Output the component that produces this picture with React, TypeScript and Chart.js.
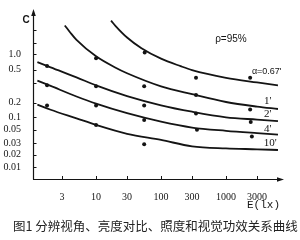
import React, { useEffect, useRef } from "react";
import { Chart, registerables, LogarithmicScale } from "chart.js";

// ---------- data ----------
const X_TICKS = [3, 10, 30, 100, 300, 1000, 3000];
const Y_TICKS = [0.01, 0.02, 0.03, 0.05, 0.1, 0.2, 0.3, 0.5, 1, 2, 5];
const Y_TICK_LABELS = ["0.01", "0.02", "0.03", "0.05", "0.1", "0.2", "", "0.5", "1.0", "", ""];

const SERIES_NAMES = ["α=0.67'", "1'", "2'", "4'", "10'"];

// fitted curves: illuminance E (lx) and contrast C
const curve067X = [17, 20, 30, 50, 100, 200, 300, 1000, 3000, 6300];
const curve067C = [6.95, 5.78, 2.95, 1.45, 0.826, 0.59, 0.496, 0.371, 0.311, 0.288];
const curve1X = [3.3, 4, 5, 10, 20, 30, 100, 300, 1000, 3000, 6300];
const curve1C = [5.9, 4.25, 2.47, 0.917, 0.55, 0.44, 0.282, 0.239, 0.203, 0.166, 0.148];
const curveLowX = [1.25, 2, 5, 10, 30, 100, 300, 1000, 3000, 6300];
const curve2C = [0.71, 0.56, 0.377, 0.288, 0.23, 0.177, 0.13, 0.0994, 0.0875, 0.0808];
const curve4C = [0.334, 0.2845, 0.228, 0.191, 0.121, 0.0782, 0.0565, 0.048, 0.044, 0.0417];
const curve10C = [0.182, 0.1427, 0.0938, 0.0653, 0.0429, 0.034, 0.027, 0.0251, 0.0243, 0.0237];

// measured points
const dots067X = [56, 345, 2350];
const dots067C = [1.12, 0.373, 0.373];
const dots1X = [10, 55, 345, 2350];
const dots1C = [0.841, 0.282, 0.235, 0.1447];
const dots2X = [1.76, 10, 55, 345, 2400];
const dots2C = [0.594, 0.282, 0.174, 0.12, 0.0766];
const dots4X = [1.76, 10, 55, 357, 2500];
const dots4C = [0.288, 0.174, 0.0852, 0.05, 0.0387];
const dots10X = [1.76, 10, 55];
const dots10C = [0.174, 0.0653, 0.029];

// ---------- the figure's non-uniform C axis ----------
const Y_KNOT_VALUES = [0.005, 0.01, 0.02, 0.03, 0.05, 0.1, 0.2, 0.3, 0.5, 1, 2, 5, 10];
const Y_KNOT_OFFSETS = [0, 12, 25, 37, 51, 64, 79, 99, 113, 129, 141, 154, 175];
const Y_KNOT_LOGS = Y_KNOT_VALUES.map((v) => Math.log10(v));
const Y_TOTAL = Y_KNOT_OFFSETS[Y_KNOT_OFFSETS.length - 1];

class PiecewiseLogScale extends LogarithmicScale {
  static id = "piecewiseLog";
  getPixelForValue(value: any) {
    if (value === null || value === undefined || isNaN(value)) return NaN;
    const lv = Math.log10(Math.max(value, 1e-9));
    let i = 0;
    while (i < Y_KNOT_LOGS.length - 2 && lv > Y_KNOT_LOGS[i + 1]) i++;
    const t = (lv - Y_KNOT_LOGS[i]) / (Y_KNOT_LOGS[i + 1] - Y_KNOT_LOGS[i]);
    const off = Y_KNOT_OFFSETS[i] + t * (Y_KNOT_OFFSETS[i + 1] - Y_KNOT_OFFSETS[i]);
    return (this as any).getPixelForDecimal(off / Y_TOTAL);
  }
  getValueForPixel(pixel: number) {
    const off = (this as any).getDecimalForPixel(pixel) * Y_TOTAL;
    let i = 0;
    while (i < Y_KNOT_OFFSETS.length - 2 && off > Y_KNOT_OFFSETS[i + 1]) i++;
    const t = (off - Y_KNOT_OFFSETS[i]) / (Y_KNOT_OFFSETS[i + 1] - Y_KNOT_OFFSETS[i]);
    return Math.pow(10, Y_KNOT_LOGS[i] + t * (Y_KNOT_LOGS[i + 1] - Y_KNOT_LOGS[i]));
  }
}

Chart.register(...registerables, PiecewiseLogScale as any);

const CAPTION = "图1 分辨视角、亮度对比、照度和视觉功效关系曲线";
const INK = "#141414";

// label anchors (x value in lx, vertical offset from curve end)
const LABEL_X = [2500, 3850, 3850, 3850, 3800];
const LABEL_DY = [-14, -7.5, -7, -5, -7];

const zip = (xs: number[], ys: number[]) => xs.map((x, i) => ({ x, y: ys[i] }));

const decorPlugin = {
  id: "decor",
  afterDraw(chart: any) {
    const { ctx, chartArea: a } = chart;
    const xs = chart.scales.x;
    const ys = chart.scales.y;
    ctx.save();
    ctx.strokeStyle = INK;
    ctx.fillStyle = INK;
    ctx.lineWidth = 1.2;
    // y axis with arrow
    ctx.beginPath();
    ctx.moveTo(a.left + 0.5, a.bottom + 0.5);
    ctx.lineTo(a.left + 0.5, a.top + 4);
    ctx.stroke();
    ctx.beginPath();
    ctx.moveTo(a.left + 0.5, a.top - 1);
    ctx.lineTo(a.left - 1.8, a.top + 6);
    ctx.lineTo(a.left + 2.8, a.top + 6);
    ctx.closePath();
    ctx.fill();
    // x axis with arrow
    ctx.beginPath();
    ctx.moveTo(a.left, a.bottom + 0.5);
    ctx.lineTo(a.right - 4, a.bottom + 0.5);
    ctx.stroke();
    ctx.beginPath();
    ctx.moveTo(a.right + 1, a.bottom + 0.5);
    ctx.lineTo(a.right - 6, a.bottom - 1.8);
    ctx.lineTo(a.right - 6, a.bottom + 2.8);
    ctx.closePath();
    ctx.fill();
    // inner ticks
    ctx.lineWidth = 1;
    ctx.beginPath();
    X_TICKS.forEach((v) => {
      const px = Math.round(xs.getPixelForValue(v)) + 0.5;
      ctx.moveTo(px, a.bottom);
      ctx.lineTo(px, a.bottom - 3);
    });
    Y_TICKS.forEach((v) => {
      const py = Math.round(ys.getPixelForValue(v)) + 0.5;
      ctx.moveTo(a.left, py);
      ctx.lineTo(a.left + 3.5, py);
    });
    ctx.stroke();

    // axis names
    ctx.textBaseline = "middle";
    ctx.textAlign = "center";
    ctx.font = "bold 10px 'Liberation Sans'";
    ctx.fillText("C", a.left - 7, a.top + 10);
    ctx.font = "11px 'Liberation Mono'";
    ctx.textAlign = "right";
    ctx.fillText("E(lx)", a.right - 3, a.bottom + 26);

    ctx.font = "10px 'Liberation Sans'";
    ctx.textAlign = "center";
    ctx.fillText("ρ=95%", xs.getPixelForValue(1190), ys.getPixelForValue(2.6));

    // curve labels
    const ends = [curve067C, curve1C, curve2C, curve4C, curve10C];
    ctx.textAlign = "left";
    SERIES_NAMES.forEach((name, i) => {
      const c = ends[i];
      const yEnd = ys.getPixelForValue(c[c.length - 1]);
      ctx.font = i === 0 ? "9px 'Liberation Sans'" : "11px 'Liberation Serif'";
      ctx.fillText(name, xs.getPixelForValue(LABEL_X[i]), yEnd + LABEL_DY[i]);
    });

    // caption
    ctx.font = "12.5px 'Noto Sans CJK SC'";
    ctx.fillStyle = "#222";
    ctx.textAlign = "left";
    ctx.fillText(CAPTION, 13, 226);
    ctx.restore();
  },
};

export default function App() {
  const ref = useRef<HTMLCanvasElement | null>(null);
  useEffect(() => {
    if (!ref.current) return;
    const curves = [
      zip(curve067X, curve067C),
      zip(curve1X, curve1C),
      zip(curveLowX, curve2C),
      zip(curveLowX, curve4C),
      zip(curveLowX, curve10C),
    ];
    const dots = [
      zip(dots067X, dots067C),
      zip(dots1X, dots1C),
      zip(dots2X, dots2C),
      zip(dots4X, dots4C),
      zip(dots10X, dots10C),
    ];
    const datasets: any[] = [];
    curves.forEach((d, i) =>
      datasets.push({
        label: SERIES_NAMES[i],
        data: d,
        showLine: true,
        borderColor: INK,
        borderWidth: 1.8,
        pointRadius: 0,
        cubicInterpolationMode: "monotone",
        fill: false,
      })
    );
    dots.forEach((d, i) =>
      datasets.push({
        label: SERIES_NAMES[i] + " data",
        data: d,
        showLine: false,
        pointRadius: 2,
        pointBackgroundColor: INK,
        pointBorderWidth: 0,
      })
    );
    const tickFont = { family: "'Liberation Serif'", size: 10 };
    const chart = new Chart(ref.current, {
      type: "scatter",
      data: { datasets },
      options: {
        animation: false,
        responsive: false,
        devicePixelRatio: 1,
        events: [],
        layout: { padding: { left: 0, top: 4, right: 17, bottom: 0 } },
        plugins: { legend: { display: false }, title: { display: false }, tooltip: { enabled: false } },
        scales: {
          x: {
            type: "logarithmic",
            position: "bottom",
            min: 1.07,
            max: 7530,
            grid: { display: false },
            border: { display: false },
            afterBuildTicks: (s: any) => {
              s.ticks = X_TICKS.map((v) => ({ value: v }));
            },
            afterFit: (s: any) => {
              s.height = 61;
            },
            ticks: {
              autoSkip: false,
              maxRotation: 0,
              padding: 4,
              color: INK,
              font: tickFont,
              callback: (v: any) => String(v),
            },
          },
          y: {
            type: "piecewiseLog" as any,
            position: "left",
            min: 0.005,
            max: 10,
            grid: { display: false },
            border: { display: false },
            afterBuildTicks: (s: any) => {
              s.ticks = Y_TICKS.map((v) => ({ value: v }));
            },
            afterFit: (s: any) => {
              s.width = 33;
            },
            ticks: {
              autoSkip: false,
              padding: 4,
              color: INK,
              font: tickFont,
              callback: (_v: any, i: number) => Y_TICK_LABELS[i],
            },
          },
        },
      } as any,
      plugins: [decorPlugin],
    });
    return () => chart.destroy();
  }, []);
  return (
    <div style={{ position: "absolute", left: 0, top: 0, width: 300, height: 240, background: "#fff" }}>
      <canvas ref={ref} width={300} height={240} style={{ display: "block" }} />
    </div>
  );
}
